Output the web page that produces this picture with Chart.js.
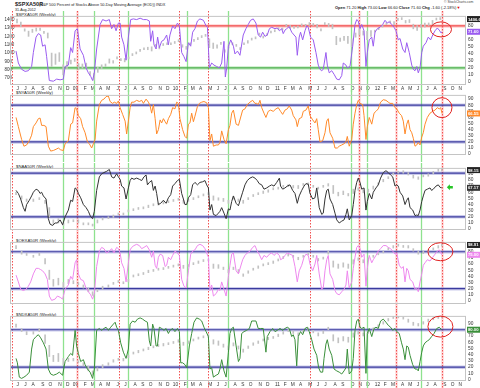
<!DOCTYPE html>
<html>
<head>
<meta charset="utf-8">
<title>$SPXA50R</title>
<script src="https://cdn.jsdelivr.net/npm/chart.js@4.4.1/dist/chart.umd.min.js"></script>
<style>
  html, body { margin:0; padding:0; background:#fff; }
  body { width:480px; height:388px; position:relative; overflow:hidden; font-family:"Liberation Sans", Arial, sans-serif; }
  canvas { position:absolute; left:0; }
  .tx { position:absolute; white-space:nowrap; line-height:1; color:#222; font-size:4.3px; }
</style>
</head>
<body>
<div class="tx" style="left:15px;top:2px;font-size:5.5px;font-weight:bold;">$SPXA50R</div>
<div class="tx" style="left:39px;top:3px;font-size:3.9px;">(S&amp;P 500 Percent of Stocks Above 50-Day Moving Average (EOD)) INDX</div>
<div class="tx" style="left:15px;top:8.5px;font-size:3.6px;">31-Aug-2012</div>
<div class="tx" style="left:444px;top:1px;font-size:3.4px;color:#444;">© StockCharts.com</div>
<div class="tx" style="left:335px;top:6px;font-size:4px;"><b>Open</b> 71.20 <b>High</b> 73.00 <b>Low</b> 66.60 <b>Close</b> 71.60 <b>Chg</b> -1.60 (-2.18%)<span style="color:#d00">▼</span></div>
<div class="tx" style="left:16px;top:12.5px;">$SPXA50R (Weekly)</div>
<div class="tx" style="left:16px;top:91px;">$NYA50R (Weekly)</div>
<div class="tx" style="left:16px;top:164.5px;">$NAA50R (Weekly)</div>
<div class="tx" style="left:16px;top:238.5px;">$OEXA50R (Weekly)</div>
<div class="tx" style="left:16px;top:312.5px;">$NDXA50R (Weekly)</div>
<script>
// ---------------- DATA ----------------
// time unit: weekly bar index, bar 0 = week of 6-Jun-2008
const FIRST_WEEK = Date.UTC(2008, 5, 6);
const monthLetters = ['J','F','M','A','M','J','J','A','S','O','N','D'];
const yearTags = ['08','09','10','11','12'];
const pctTicks = [0,10,20,30,40,50,60,70,80,90];
const spxTicks = [700,800,900,1000,1100,1200,1300,1400];

// annotation dates (weeks)
const redMarks = [-2.75, 31.0, 53.0, 84.4, 99.4, 152.3, 177.8, 197.0, 220.7];
const redHalo = [31.0, 177.8, 197.0, 220.7];
const greenMarks = [24.1, 40.2, 57.5, 88.2, 109.5, 173.6, 181.8, 210.0];

// $SPX weekly price bars (every 2nd week)
const spxWeeks = Array.from({length:111}, (_, i) => 2 * i);
const spxLow = [1360,1317,1262,1200,1247,1263,1270,1235,1180,840,865,
 900,741,815,870,900,804,820,820,735,675,
 770,814,840,880,880,930,910,895,930,970,
 990,1020,1040,1040,1025,1080,1050,1090,1100,1100,
 1115,1136,1070,1045,1100,1140,1160,1185,1200,1065,
 1055,1060,1105,1010,1060,1100,1080,1040,1100,1120,
 1155,1170,1215,1180,1210,1240,1255,1280,1276,1320,
 1294,1294,1300,1325,1320,1330,1330,1300,1265,1340,
 1315,1290,1100,1140,1150,1115,1075,1190,1215,1215,
 1160,1200,1250,1280,1310,1340,1360,1340,1390,1400,
 1360,1365,1290,1270,1306,1310,1330,1340,1395,1400];
const spxHigh = [1405,1370,1290,1262,1285,1300,1300,1255,1240,1000,990,
 1005,860,900,915,935,875,870,880,780,760,
 830,860,870,930,910,950,935,935,945,990,
 1010,1040,1050,1070,1075,1100,1070,1110,1120,1115,
 1130,1150,1100,1080,1110,1150,1175,1195,1215,1170,
 1120,1100,1120,1040,1100,1115,1095,1065,1110,1150,
 1165,1185,1225,1200,1225,1245,1260,1295,1300,1330,
 1330,1320,1315,1340,1340,1365,1345,1345,1290,1345,
 1355,1345,1200,1180,1200,1200,1170,1240,1290,1265,
 1260,1270,1270,1300,1320,1355,1370,1375,1405,1420,
 1390,1400,1345,1330,1345,1360,1360,1390,1405,1420];

// $SPXA50R [week, percent]
const spxA50 = [[-0.5,44],[0.7,27],[2.4,18],[4.2,15],[5.9,16],[7.6,22],[8.5,42],[9.9,64],[11.1,69],[12.3,67],
[13.3,51],[14.6,53],[15.4,36],[16.8,2],[18.9,1],[20.6,4],[22.4,3],[24.1,4],[25.0,22],[26.7,24],
[27.9,49],[28.9,42],[30.2,73],[31.4,76],[32.8,47],[34.5,38],[35.9,20],[37.1,13],[38.3,8],[39.3,2],
[40.2,13],[41.4,47],[43.2,82],[44.5,89],[46.3,87],[48.0,89],[49.2,76],[50.4,82],[51.5,73],[52.7,84],
[53.6,84],[54.4,64],[55.6,53],[56.7,31],[57.9,64],[59.1,89],[60.5,90],[62.2,89],[64.0,91],[65.7,89],
[67.4,89],[68.8,87],[69.5,58],[70.5,73],[71.2,53],[72.3,47],[73.1,64],[74.0,49],[75.2,58],[76.4,60],
[77.8,67],[78.7,53],[79.5,67],[80.9,80],[82.1,76],[83.4,84],[84.4,80],[85.6,42],[86.8,36],[87.9,29],
[89.1,56],[90.3,51],[91.3,71],[92.5,76],[93.8,87],[95.1,90],[96.9,88],[98.3,80],[99.0,78],[100.0,20],
[101.2,27],[102.4,24],[103.8,22],[105.2,20],[106.4,27],[107.6,58],[108.3,7],[109.0,20],[109.9,51],[111.1,60],
[112.5,51],[113.3,40],[114.6,44],
[115.9,38],[117.6,67],[119.0,76],[120.2,82],[121.4,88],[122.8,90],[124.2,84],[125.4,67],[126.6,64],[127.7,71],
[128.9,65],[130.1,67],[131.2,76],[132.4,78],[134.1,76],[135.3,77],[136.4,73],[137.6,76],[138.4,69],[139.3,74],
[140.2,76],[141.5,79],[142.8,71],[144.0,67],[145.0,64],[145.7,38],[146.7,64],[147.4,71],[148.5,60],[149.7,73],
[150.6,80],[151.4,78],[152.6,64],[154.0,60],[155.4,42],[156.6,24],[157.5,18],[158.4,16],[159.2,18],[160.6,42],
[161.3,24],[162.3,13],[163.6,16],[164.8,11],[166.2,4],[167.5,3],[168.8,9],[169.6,27],[171.0,24],[171.7,20],
[173.1,22],[174.5,51],[175.7,82],[176.6,89],[177.4,87],[178.3,76],[179.2,82],[180.4,73],[181.4,22],[182.1,42],
[183.1,60],[184.4,64],[185.2,51],[186.1,71],[187.3,76],[188.7,78],[190.1,82],[191.3,88],[192.5,84],[193.5,86],
[194.8,82],[196.0,78],[197.0,73],[198.2,60],[199.1,62],[200.5,47],[201.7,42],[202.6,56],[203.9,42],[205.2,24],
[206.0,18],[206.9,16],[207.8,22],[208.6,13],[209.5,20],[210.4,42],[211.2,51],[212.6,56],[213.8,64],[215.0,60],
[216.1,67],[217.3,73],[218.5,77],[219.5,74],[220.4,70],[221.0,71.6]];

// $NYA50R
const nyaA50 = [[-0.5,60],[0.7,45],[2.4,24],[3.6,13],[5.0,15],[6.4,22],[7.6,31],[8.5,45],[9.9,51],[11.1,58],
[12.0,59],[12.8,47],[14.0,47],[15.1,45],[16.3,13],[17.5,5],[18.9,6],[20.3,8],[21.5,10],[22.7,7],
[24.1,6],[25.0,17],[26.7,22],[27.9,49],[28.9,51],[30.2,76],[31.0,74],[31.9,63],[33.1,58],[34.1,45],
[35.4,35],[36.6,20],[37.6,17],[38.8,10],[39.7,17],[40.6,24],[41.4,54],[42.8,81],[44.0,88],[45.2,90],
[46.3,94],[47.5,95],[48.4,86],[49.7,83],[50.6,85],[51.8,83],[52.7,87],[53.6,76],[54.9,65],[56.2,54],
[57.0,33],[57.9,54],[58.8,76],[59.6,85],[60.8,85],[62.2,88],[63.6,86],[64.8,88],[65.7,83],[67.1,90],
[68.3,85],[69.2,79],[70.0,67],[70.9,81],[71.8,58],[72.6,33],[73.5,40],[74.4,56],[75.2,51],[76.1,58],
[77.0,53],[77.8,49],[78.7,58],[79.9,65],[80.9,76],[82.1,74],[83.0,85],[83.9,83],[84.7,58],[86.1,40],
[87.3,29],[88.2,26],[89.1,49],[89.9,51],[90.8,67],[91.7,53],[92.5,62],[93.8,78],[94.8,83],[96.0,85],
[97.2,86],[98.6,84],[99.5,76],[100.3,22],[101.2,33],[102.1,13],[103.5,15],[104.7,15],[105.5,19],[106.4,38],
[107.6,24],[108.7,17],[109.9,40],[110.7,47],[111.6,67],[112.5,72],[113.9,49],[115.1,47],
[117.3,72],[118.5,74],[119.7,81],[121.1,85],[122.5,88],[123.7,83],[124.6,83],[125.4,81],[126.3,88],[127.2,76],
[128.4,67],[129.4,60],[130.6,70],[131.8,72],[133.2,70],[134.6,74],[135.8,76],[137.0,70],[138.1,65],[139.3,72],
[140.5,74],[141.5,79],[142.8,72],[143.6,63],[145.0,56],[145.7,45],[146.7,58],[148.0,60],[148.8,70],[150.2,72],
[151.4,79],[152.3,63],[153.7,56],[154.9,51],[155.8,58],[156.6,40],[157.5,20],[158.9,22],[160.1,35],[161.0,54],
[161.8,58],[162.7,35],[164.1,26],[165.3,10],[166.5,10],[167.5,13],[168.8,15],[170.0,17],[171.0,20],[171.7,29],
[172.7,13],[174.0,24],[174.8,49],[175.7,67],[176.6,81],[177.4,88],[178.3,83],[179.7,81],[180.4,63],[181.4,24],
[182.1,45],[183.1,60],[184.4,49],[185.6,67],[186.6,70],[187.8,74],[189.0,85],[190.4,89],[191.8,88],[193.0,85],
[193.9,83],[195.3,83],[196.5,76],[197.4,74],[198.7,67],[199.9,63],[200.8,54],[201.7,33],[202.6,49],[203.4,56],
[204.3,40],[205.2,35],[206.0,26],[206.9,13],[207.8,15],[208.6,19],[209.5,15],[210.4,28],[211.2,35],[212.1,49],
[213.3,60],[214.7,67],[216.1,70],[217.3,72],[218.5,76],[219.5,74],[220.2,76],[221.0,66.55]];

// $NAA50R
const naaA50 = [[-0.5,63],[0.7,58],[1.9,49],[3.3,35],[4.2,29],[5.0,40],[6.4,47],[7.6,54],[8.5,60],[9.9,65],
[11.1,63],[12.0,58],[12.8,60],[13.7,54],[15.1,49],[16.3,17],[17.2,8],[18.5,6],[19.8,10],[21.0,10],
[22.4,15],[23.7,7],[25.0,20],[26.7,31],[27.9,47],[28.9,45],[30.2,67],[31.0,65],[31.9,58],[33.1,51],
[34.5,40],[35.9,35],[37.1,29],[38.3,20],[39.3,17],[40.2,29],[41.4,63],[42.8,85],[44.0,90],[45.2,92],
[46.6,94],[48.0,97],[49.2,85],[50.4,83],[51.8,90],[52.7,85],[53.6,81],[54.4,70],[55.6,67],[56.7,49],
[57.9,67],[58.8,79],[59.6,83],[60.8,81],[62.2,83],[63.6,81],[64.8,79],[66.0,85],[67.1,88],[67.8,72],
[68.8,76],[70.0,79],[70.9,63],[71.8,70],[72.6,58],[73.5,40],[74.7,42],[76.1,47],[77.5,42],[78.7,51],
[79.9,56],[80.9,70],[82.1,74],[83.4,79],[84.4,81],[85.6,58],[86.5,49],[87.3,40],[88.2,40],[89.1,51],
[90.3,56],[91.3,72],[92.5,76],[93.8,72],[95.1,76],[96.5,77],[97.7,79],[98.6,72],[99.5,67],[100.3,31],
[101.2,40],[102.1,24],[103.5,22],[104.7,26],[105.5,29],[106.4,35],[107.6,26],[108.7,17],[109.9,33],[110.7,31],
[111.6,45],[112.5,54],[113.9,42],[115.1,38],
[117.3,60],[118.5,72],[119.7,79],[121.1,83],[122.5,85],[123.7,83],[124.9,79],[125.9,74],[127.2,72],[128.4,65],
[129.8,67],[131.2,70],[132.4,72],[133.6,70],[135.0,76],[136.4,83],[137.0,70],[138.1,65],[139.3,67],[140.5,70],
[141.9,72],[143.3,63],[144.5,58],[145.7,42],[146.7,54],[148.0,63],[149.2,70],[150.2,74],[151.4,73],[152.3,58],
[153.7,49],[154.9,51],[155.8,67],[157.1,35],[158.4,24],[159.2,26],[160.1,49],[161.0,63],[161.8,65],[162.7,49],
[164.1,40],[165.3,26],[166.2,15],[167.5,10],[168.8,13],[170.0,15],[171.0,24],[171.7,33],[172.7,15],[174.0,22],
[174.8,40],[175.7,63],[176.6,76],[177.4,83],[178.3,76],[179.2,65],[180.4,67],[181.4,31],[182.1,45],[183.1,58],
[184.4,49],[185.2,60],[186.6,67],[187.8,72],[189.0,83],[190.4,92],[191.8,95],[193.0,92],[194.2,88],[195.3,85],
[196.5,70],[197.4,72],[198.2,70],[199.1,60],[200.5,54],[201.7,40],[202.6,47],[203.4,51],[204.3,35],[205.7,31],
[206.9,22],[207.8,23],[208.6,22],[209.5,31],[210.4,45],[211.2,54],[212.1,63],[213.3,65],[214.7,67],[215.5,63],
[216.4,65],[217.8,70],[219.0,72],[219.9,68],[220.8,67.17]];

// $OEXA50R
const oexA50 = [[-0.5,42],[0.7,31],[1.9,19],[3.3,17],[4.7,19],[5.9,24],[7.1,31],[8.5,44],[9.9,53],[11.1,53],
[12.3,51],[13.3,49],[14.6,44],[15.8,35],[16.8,8],[18.0,1],[19.8,3],[21.0,8],[22.4,6],[23.7,3],
[25.0,19],[26.7,26],[27.9,40],[28.9,35],[30.2,62],[31.0,67],[31.9,44],[33.1,35],[34.5,33],[35.9,21],
[37.1,15],[38.3,10],[39.3,3],[40.2,12],[41.4,56],[42.8,81],[44.0,87],[45.2,85],[46.6,78],[48.0,81],
[49.2,85],[50.4,78],[51.8,87],[52.7,85],[53.6,78],[54.4,62],[55.6,53],[56.7,31],[57.9,62],[58.8,83],
[59.6,87],[60.8,90],[62.2,92],[63.6,90],[64.8,85],[66.0,87],[67.4,90],[68.8,83],[70.0,71],[70.9,81],
[71.8,58],[72.6,53],[73.5,71],[74.4,76],[75.7,74],[77.0,56],[77.8,58],[78.7,71],[79.9,67],[80.9,74],
[82.1,81],[83.4,78],[84.4,74],[85.6,35],[86.8,24],[87.9,21],[89.1,49],[90.3,76],[91.3,81],[92.5,83],
[93.8,90],[95.1,92],[96.5,90],[97.7,85],[98.6,78],[99.5,71],[100.3,17],[101.2,26],[102.1,8],[103.5,12],
[104.7,19],[105.5,17],[106.4,31],[107.6,19],[108.7,8],[109.9,40],[110.7,58],[111.6,76],[112.5,78],[113.9,49],
[115.1,44],
[117.3,67],[118.5,74],[119.7,78],[121.1,81],[122.5,87],[123.7,90],[124.9,81],[125.9,76],[127.2,67],[128.4,74],
[129.8,71],[131.2,76],[132.4,78],[133.6,74],[135.0,78],[136.4,74],[137.0,67],[138.1,69],[139.3,74],[140.5,78],
[141.9,76],[143.3,74],[144.5,56],[145.7,31],[146.7,49],[148.0,58],[149.2,71],[150.2,76],[151.4,74],[152.3,60],
[153.7,49],[154.9,60],[155.8,74],[157.1,44],[158.4,19],[159.2,21],[160.1,49],[161.0,67],[161.8,74],[162.7,44],
[164.1,35],[165.3,17],[166.2,12],[167.5,10],[168.8,15],[170.0,19],[171.0,26],[171.7,49],[172.7,21],[174.0,31],
[174.8,53],[175.7,71],[176.6,87],[177.4,90],[178.3,85],[179.2,71],[180.4,76],[181.4,24],[182.1,53],[183.1,74],
[184.4,62],[185.2,67],[186.6,74],[187.8,81],[189.0,85],[190.4,90],[191.8,90],[193.0,87],[194.2,85],[195.3,81],
[196.5,76],[197.4,78],[198.7,58],[199.9,53],[200.8,56],[201.7,31],[202.6,53],[203.4,49],[204.3,35],[205.7,31],
[206.9,19],[207.8,21],[208.6,15],[209.5,31],[210.4,44],[211.2,58],[212.1,62],[213.3,67],[214.7,65],[216.1,71],
[217.3,76],[218.5,81],[219.5,83],[220.8,75]];

// $NDXA50R
const ndxA50 = [[-0.5,34],[0.2,27],[1.2,4],[2.4,2],[3.6,4],[5.0,7],[6.4,12],[7.6,49],[8.5,64],[9.9,69],
[11.1,72],[12.3,67],[13.7,59],[15.1,49],[16.3,17],[17.5,9],[18.9,7],[20.6,9],[22.0,12],[23.7,7],
[25.0,29],[26.7,37],[27.9,42],[28.9,39],[30.2,79],[31.0,54],[31.9,42],[33.1,29],[34.5,32],[35.4,24],
[36.6,17],[38.0,12],[39.3,2],[40.2,17],[41.4,79],[42.8,82],[44.0,79],[45.2,82],[46.3,84],[47.5,79],
[48.7,84],[50.1,89],[51.0,92],[51.8,84],[52.7,79],[53.9,59],[55.3,44],[56.7,34],[57.9,49],[58.8,89],
[60.1,94],[61.4,92],[62.6,97],[64.0,99],[65.3,97],[66.6,94],[67.8,92],[68.8,62],[69.5,54],[70.5,89],
[71.2,82],[72.3,54],[73.0,54],[74.0,84],[75.2,82],[76.4,79],[77.5,82],[78.7,74],[79.5,79],[80.9,82],
[82.1,77],[83.4,82],[84.4,77],[85.1,27],[86.1,27],[87.3,24],[88.2,19],[89.6,54],[90.8,74],[92.0,92],
[93.4,99],[94.8,97],[96.0,94],[97.2,84],[98.3,77],[99.5,69],[100.3,17],[101.2,19],[102.1,4],[103.5,7],
[104.7,9],[105.5,17],[106.4,32],[107.6,14],[108.7,4],[109.9,44],[110.7,74],[111.6,82],[112.5,84],[113.9,54],
[115.1,29],[115.9,34],
[116.8,74],[118.0,77],[119.4,79],[120.8,82],[122.0,94],[123.2,94],[124.2,94],[125.4,82],[126.6,82],[128.0,82],
[129.4,44],[130.1,69],[131.5,77],[132.9,82],[134.1,77],[135.3,79],[136.7,82],[138.1,79],[139.3,82],[140.5,84],
[141.5,82],[142.8,69],[143.6,72],[144.5,64],[145.4,22],[146.2,69],[147.4,77],[148.5,72],[149.7,82],[150.9,84],
[151.9,77],[153.2,64],[154.4,49],[155.8,39],[156.8,19],[157.8,12],[158.9,12],[159.6,34],[160.6,57],[161.3,64],
[162.3,49],[163.6,39],[164.8,17],[166.2,14],[167.5,12],[168.8,9],[170.0,14],[171.0,19],[171.7,49],[172.7,9],
[174.0,14],[174.8,34],[175.7,79],[176.6,94],[177.4,97],[178.3,84],[179.2,82],[180.4,84],[181.4,10],[182.1,74],
[183.1,82],[184.4,69],[185.6,82],[186.6,84],[187.8,82],[189.0,94],[190.4,97],[191.8,92],[193.0,87],[194.2,84],
[195.3,79],[196.5,82],[197.4,77],[198.7,74],[199.9,59],[200.8,49],[201.7,32],[202.6,54],[203.4,52],[204.3,39],
[205.7,24],[206.9,17],[207.8,17],[208.6,14],[209.5,29],[210.4,44],[211.2,54],[212.1,59],[213.3,62],[214.3,64],
[215.5,69],[216.8,74],[218.2,82],[219.5,84],[220.8,80]];

// index price bars for lower panels, read in each panel's right-scale units
const idxWeeks = [-0.5,2.4,5.0,8.5,11.6,14.6,16.8,18.9,21.5,24.1,26.7,29.3,31.9,34.5,37.1,39.3,41.8,44.5,47.5,50.1,
 52.7,55.3,57.9,60.5,63.1,65.7,68.3,70.9,73.5,76.1,78.7,81.3,83.9,86.5,89.1,91.7,94.3,96.9,99.5,102.1,
 104.7,107.3,109.9,112.5,115.1,117.6,120.2,122.8,125.4,128.0,130.6,133.2,135.8,138.4,141.0,143.6,146.2,148.8,151.4,154.0,
 156.6,159.2,161.8,164.4,167.0,169.6,172.2,174.8,177.4,180.0,182.6,185.2,187.8,190.4,193.0,195.6,198.2,200.8,203.4,206.0,
 208.6,211.2,213.8,216.4,219.0,220.8];
const naaPx = [[56,60],[49,54],[45,49],[45,49],[48,51],[42,47],[20,35],[7,15],[10,17],[6,10],[10,15],[12,15],[10,15],[7,10],[7,10],[5,8],[10,15],[15,18],[17,20],[19,23],
 [23,25],[23,26],[28,31],[30,33],[32,35],[33,36],[35,39],[38,40],[39,42],[41,45],[43,45],[45,47],[47,50],[42,47],[45,48],[48,51],[51,54],[54,56],[56,58],[47,54],
 [47,51],[45,50],[42,47],[49,53],[45,49],[42,47],[48,51],[53,56],[56,59],[58,62],[60,64],[64,66],[65,68],[68,71],[69,72],[67,71],[66,71],[71,74],[72,75],[68,71],
 [65,68],[68,71],[70,74],[58,71],[54,60],[56,62],[54,58],[58,65],[63,67],[59,64],[60,65],[65,70],[72,75],[77,81],[82,85],[88,91],[91,94],[91,95],[88,92],[83,88],
 [81,85],[85,88],[86,90],[90,94],[94,97],[95,97]];
const oexPx = [[85,90],[76,81],[74,76],[71,74],[74,78],[60,69],[35,50],[24,35],[26,37],[21,30],[28,35],[28,33],[26,30],[21,26],[15,21],[9,15],[15,19],[19,24],[22,26],[27,30],
 [30,33],[28,31],[31,35],[39,42],[41,44],[43,46],[46,50],[48,51],[50,53],[51,54],[53,55],[55,58],[57,60],[53,58],[56,59],[59,62],[61,65],[64,67],[65,68],[53,60],
 [53,59],[51,55],[46,51],[51,55],[46,51],[40,44],[45,49],[50,53],[53,57],[57,60],[59,62],[61,65],[65,68],[69,72],[73,76],[71,74],[67,71],[71,74],[75,78],[71,74],
 [65,69],[68,71],[76,81],[55,65],[53,60],[55,62],[53,60],[60,67],[66,70],[62,67],[66,70],[71,74],[75,78],[78,81],[83,86],[86,90],[89,92],[87,90],[86,90],[81,85],
 [76,81],[77,81],[80,83],[83,86],[86,90],[89,92]];
const ndxPx = [[84,89],[77,82],[72,77],[73,77],[77,82],[58,72],[37,55],[29,39],[29,42],[24,34],[29,34],[30,34],[27,30],[22,27],[14,22],[7,14],[14,19],[19,24],[23,27],[28,32],
 [31,34],[30,34],[35,39],[41,44],[43,47],[46,49],[48,52],[51,54],[53,56],[54,58],[56,59],[58,61],[60,64],[55,60],[58,62],[62,65],[65,68],[67,70],[68,72],[57,64],
 [55,62],[52,57],[48,54],[54,59],[49,54],[44,49],[50,54],[55,59],[58,62],[62,65],[64,68],[66,69],[69,73],[73,77],[77,80],[74,78],[70,75],[75,79],[79,83],[75,79],
 [70,75],[74,78],[80,84],[62,72],[59,67],[62,69],[60,68],[68,75],[73,78],[70,75],[74,78],[79,83],[84,88],[89,93],[94,98],[98,101],[99,101],[97,100],[92,97],[87,92],
 [86,90],[89,93],[93,97],[96,99],[98,101],[99,103]];

// ---------------- CHART ----------------
const W = 480, PL = 10, PR = 466, AXIS_H = 7;
const XMIN = -3.64, XMAX = 233.4;
const FONT = 'Liberation Sans';

const monthTicks = [];
for (let y = 2008; y <= 2012; y++) for (let m = 0; m < 12; m++) {
  if ((y === 2008 && m < 5) || (y === 2012 && m > 10)) continue;
  const w = Math.ceil((Date.UTC(y, m, 1) - FIRST_WEEK) / 604800000 - 1e-9);
  monthTicks.push({ value: w + 0.4, label: m === 0 ? yearTags[y - 2008] : monthLetters[m] });
}

const toXY = arr => arr.map(p => ({ x: p[0], y: p[1] }));
const toBars = (weeks, lo, hi) => weeks.map((w, i) => ({ x: w, y: [lo[i], hi[i]] }));
const toBarsP = (weeks, px) => weeks.map((w, i) => ({ x: w, y: [px[i][0], px[i][1]] }));

function strokeLine(ctx, x1, y1, x2, y2) { ctx.beginPath(); ctx.moveTo(x1, y1); ctx.lineTo(x2, y2); ctx.stroke(); }

const marksPlugin = {
  id: 'marks',
  beforeDatasetsDraw(chart, args, o) {
    const { ctx, chartArea: a, scales } = chart;
    const x = scales.x, y = scales.y;
    ctx.save();
    const H = chart.height;
    for (const w of greenMarks) {
      const px = Math.round(x.getPixelForValue(w)) + 0.5;
      ctx.strokeStyle = '#8ee28e'; ctx.lineWidth = 1.3; ctx.setLineDash([]);
      strokeLine(ctx, px, 0, px, H);
    }
    for (const w of redMarks) {
      const px = Math.round(x.getPixelForValue(w)) + 0.5;
      if (redHalo.includes(w)) { ctx.strokeStyle = 'rgba(255,150,150,0.3)'; ctx.lineWidth = 3; ctx.setLineDash([]); strokeLine(ctx, px, 0, px, H); }
      ctx.strokeStyle = '#f25050'; ctx.lineWidth = 1; ctx.setLineDash([1.5, 1.5]);
      strokeLine(ctx, px, 0, px, H);
    }
    ctx.setLineDash([]);
    ctx.beginPath(); ctx.rect(a.left, a.top, a.right - a.left, a.bottom - a.top); ctx.clip();
    for (const L of (o.levels || [])) {
      const py = y.getPixelForValue(L.value);
      ctx.strokeStyle = L.halo; ctx.lineWidth = 3.5; strokeLine(ctx, a.left, py, a.right, py);
      ctx.strokeStyle = L.color; ctx.lineWidth = 1.2; strokeLine(ctx, a.left, py, a.right, py);
    }
    ctx.restore();
  },
  afterDatasetsDraw(chart, args, o) {
    const { ctx, chartArea: a, scales } = chart;
    const x = scales.x, y = scales.y;
    ctx.save();
    ctx.strokeStyle = '#c4c4c4'; ctx.lineWidth = 1;
    ctx.strokeRect(a.left + 0.5, a.top + 0.5, a.right - a.left - 1, a.bottom - a.top - 1);
    if (o.ellipse) {
      const e = o.ellipse;
      ctx.strokeStyle = '#e0201e'; ctx.lineWidth = 1;
      ctx.beginPath();
      ctx.ellipse(x.getPixelForValue(e.week), y.getPixelForValue(e.value), e.rx, e.ry, 0, 0, Math.PI * 2);
      ctx.stroke();
    }
    if (o.arrow) {
      const cx = x.getPixelForValue(o.arrow.week), cy = y.getPixelForValue(o.arrow.value);
      ctx.fillStyle = '#26c526';
      ctx.beginPath();
      ctx.moveTo(cx - 3, cy); ctx.lineTo(cx, cy - 3); ctx.lineTo(cx, cy - 1.2); ctx.lineTo(cx + 3, cy - 1.2);
      ctx.lineTo(cx + 3, cy + 1.2); ctx.lineTo(cx, cy + 1.2); ctx.lineTo(cx, cy + 3); ctx.closePath(); ctx.fill();
    }
    ctx.restore();
  },
  afterDraw(chart, args, o) {
    const { ctx, chartArea: a } = chart;
    ctx.save();
    for (const b of (o.boxes || [])) {
      const sc = chart.scales[b.axis];
      const py = sc.getPixelForValue(b.value);
      ctx.fillStyle = b.bg; ctx.fillRect(a.right + 1, py - 3, W - a.right - 1, 6);
      ctx.fillStyle = b.fg; ctx.font = 'bold 4.2px "' + FONT + '"'; ctx.textBaseline = 'middle'; ctx.textAlign = 'left';
      ctx.fillText(b.text, a.right + 2, py + 0.3);
    }
    ctx.restore();
  }
};

const noGrid = { display: false, drawTicks: false, tickLength: 0 };

function makePanel(cfg) {
  const h = cfg.plotH + (cfg.showX ? AXIS_H : 0);
  const cv = document.createElement('canvas');
  cv.width = W; cv.height = h;
  cv.style.top = cfg.top + 'px'; cv.style.width = W + 'px'; cv.style.height = h + 'px';
  document.body.appendChild(cv);
  const datasets = [];
  if (cfg.bars) datasets.push({ type: 'bar', data: cfg.bars, yAxisID: cfg.barAxis, xAxisID: 'x',
    backgroundColor: '#c2c2c2', borderWidth: 0, barThickness: 1, minBarLength: 2, grouped: false, order: 3 });
  datasets.push({ type: 'line', data: cfg.line, yAxisID: 'y', xAxisID: 'x', borderColor: cfg.color,
    borderWidth: 1, pointRadius: 0, tension: 0, fill: false, order: 1 });
  new Chart(cv, {
    type: 'line',
    data: { datasets },
    options: {
      responsive: false, animation: false, devicePixelRatio: 1,
      layout: { padding: 0 },
      events: [],
      plugins: { legend: { display: false }, tooltip: { enabled: false }, marks: cfg.marks },
      scales: {
        x: {
          type: 'linear', min: XMIN, max: XMAX, offset: false, display: !!cfg.showX,
          grid: noGrid, border: { display: false },
          afterBuildTicks: s => { s.ticks = monthTicks.map(t => ({ value: t.value })); },
          afterFit: s => { s.height = AXIS_H; },
          ticks: { autoSkip: false, maxRotation: 0, padding: 1, color: '#333',
            font: { size: 4.8, family: FONT }, callback: (v, i) => monthTicks[i] ? monthTicks[i].label : '' }
        },
        y: {
          type: 'linear', position: 'right', min: cfg.pMin, max: cfg.pMax,
          grid: noGrid, border: { display: false },
          afterBuildTicks: s => { s.ticks = pctTicks.filter(v => v >= s.min && v <= s.max).map(v => ({ value: v })); },
          afterFit: s => { s.width = W - PR; },
          ticks: { autoSkip: false, padding: 2, color: '#333', font: { size: 4.8, family: FONT }, callback: v => String(v) }
        },
        yp: {
          type: 'linear', position: 'left', min: cfg.lMin, max: cfg.lMax,
          grid: noGrid, border: { display: false },
          afterBuildTicks: s => { s.ticks = (cfg.lTicks || []).map(v => ({ value: v })); },
          afterFit: s => { s.width = PL; },
          ticks: { autoSkip: false, display: !!cfg.lTicks, mirror: true, padding: -5.5, color: '#333',
            font: { size: 4.5, family: FONT }, callback: v => String(v) }
        }
      }
    },
    plugins: [marksPlugin]
  });
}

const redL = { color: '#f04a4a', halo: 'rgba(255,120,120,0.35)' };
const greenL = { color: '#4cae4c', halo: 'rgba(90,200,90,0.35)' };
const blueL = { color: '#3a3a9e', halo: 'rgba(80,80,190,0.3)' };

makePanel({ top: 11, plotH: 74, showX: true, color: '#9a5cf0', line: toXY(spxA50),
  pMin: -4.4, pMax: 94.3, lMin: 618.7, lMax: 1444.6, lTicks: spxTicks,
  bars: toBars(spxWeeks, spxLow, spxHigh), barAxis: 'yp',
  marks: { levels: [{ value: 80, ...redL }, { value: 20, ...greenL }],
    ellipse: { week: 220.4, value: 75, rx: 10.5, ry: 7.5 },
    boxes: [{ axis: 'yp', value: 1406.6, text: '1406.6', bg: '#222', fg: '#fff' },
            { axis: 'y', value: 71.6, text: '71.60', bg: '#9a5cf0', fg: '#fff' }] } });

makePanel({ top: 90, plotH: 72, color: '#ff8a2a', line: toXY(nyaA50),
  pMin: -1.4, pMax: 96.9, lMin: 0, lMax: 1,
  marks: { levels: [{ value: 80, ...blueL }, { value: 20, ...blueL }],
    ellipse: { week: 220.9, value: 76, rx: 10, ry: 10 },
    boxes: [{ axis: 'y', value: 66.55, text: '66.55', bg: '#ff8a2a', fg: '#fff' }] } });

makePanel({ top: 163, plotH: 74, color: '#333333', line: toXY(naaA50),
  pMin: -1.4, pMax: 99.6, lMin: 0, lMax: 1,
  bars: toBarsP(idxWeeks, naaPx), barAxis: 'y',
  marks: { levels: [{ value: 91, ...blueL }, { value: 20, ...blueL }],
    arrow: { week: 225, value: 68 },
    boxes: [{ axis: 'y', value: 96, text: '98.15', bg: '#222', fg: '#fff' },
            { axis: 'y', value: 67.17, text: '67.17', bg: '#333', fg: '#fff' }] } });

makePanel({ top: 237, plotH: 74, color: '#ee88ee', line: toXY(oexA50),
  pMin: -4.9, pMax: 96.0, lMin: 0, lMax: 1,
  bars: toBarsP(idxWeeks, oexPx), barAxis: 'y',
  marks: { levels: [{ value: 80, ...blueL }, { value: 20, ...blueL }],
    ellipse: { week: 220.1, value: 80, rx: 12.5, ry: 9 },
    boxes: [{ axis: 'y', value: 91, text: '98.91', bg: '#222', fg: '#fff' },
            { axis: 'y', value: 75, text: '75.00', bg: '#ee88ee', fg: '#fff' }] } });

makePanel({ top: 311, plotH: 70, showX: true, color: '#3a8f3a', line: toXY(ndxA50),
  pMin: -2.2, pMax: 102.2, lMin: 0, lMax: 1,
  bars: toBarsP(idxWeeks, ndxPx), barAxis: 'y',
  marks: { levels: [{ value: 80, ...blueL }, { value: 20, ...blueL }],
    ellipse: { week: 220.1, value: 85, rx: 12.5, ry: 10.5 },
    boxes: [{ axis: 'y', value: 80, text: '80.00', bg: '#3a8f3a', fg: '#fff' }] } });
</script>
</body>
</html>
